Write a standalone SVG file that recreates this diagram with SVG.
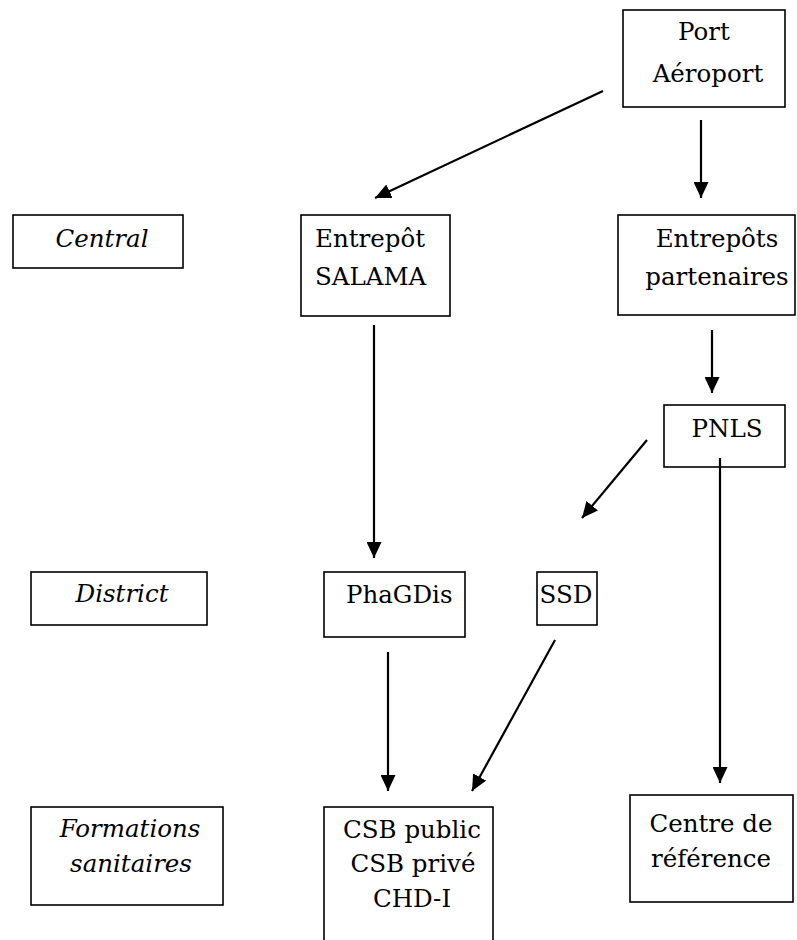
<svg xmlns="http://www.w3.org/2000/svg" width="797" height="940" viewBox="0 0 797 940">
<defs>
<style>
.box{fill:#fff;stroke:#000;stroke-width:1.6}
.t{font-family:"DejaVu Serif","Liberation Serif",serif;font-size:24.5px;fill:#000}
.c{text-anchor:middle}
.i{font-style:italic}
.conn line{stroke:#000;stroke-width:2.2}
</style>
<marker id="ah" markerUnits="userSpaceOnUse" markerWidth="17" markerHeight="15" refX="16" refY="7.5" orient="auto" viewBox="0 0 17 15">
<path d="M0,0 L16,7.5 L0,15 Z" fill="#000"/>
</marker>
</defs>
<rect width="797" height="940" fill="#fff"/>

<g id="port">
<rect class="box" x="623" y="10" width="162" height="97"/>
<text class="t c" x="704" y="40">Port</text>
<text class="t c" x="708" y="82">Aéroport</text>
</g>

<g id="central">
<rect class="box" x="13" y="215" width="170" height="53"/>
<text class="t c i" x="102" y="247">Central</text>
</g>

<g id="salama">
<rect class="box" x="301" y="215" width="149" height="101"/>
<text class="t" x="315" y="247">Entrepôt</text>
<text class="t" x="315" y="285">SALAMA</text>
</g>

<g id="partenaires">
<rect class="box" x="618" y="215" width="177" height="100"/>
<text class="t c" x="717" y="247">Entrepôts</text>
<text class="t c" x="717" y="285">partenaires</text>
</g>

<g id="pnls">
<rect class="box" x="664" y="405" width="121" height="62"/>
<text class="t c" x="727" y="437">PNLS</text>
</g>

<g id="district">
<rect class="box" x="31" y="572" width="176" height="53"/>
<text class="t c i" x="122" y="602">District</text>
</g>

<g id="phagdis">
<rect class="box" x="324" y="572" width="141" height="65"/>
<text class="t" x="346" y="603">PhaGDis</text>
</g>

<g id="ssd">
<rect class="box" x="537" y="572" width="60" height="53"/>
<text class="t c" x="566" y="603">SSD</text>
</g>

<g id="formations">
<rect class="box" x="31" y="807" width="192" height="98"/>
<text class="t c i" x="130" y="837">Formations</text>
<text class="t c i" x="131" y="872">sanitaires</text>
</g>

<g id="csb">
<rect class="box" x="324" y="807" width="169" height="140"/>
<text class="t c" x="412" y="838">CSB public</text>
<text class="t c" x="413" y="872">CSB privé</text>
<text class="t c" x="412" y="907">CHD-I</text>
</g>

<g id="centre">
<rect class="box" x="630" y="795" width="163" height="107"/>
<text class="t c" x="711" y="832">Centre de</text>
<text class="t c" x="711" y="867">référence</text>
</g>

<g class="conn" id="connectors">
<line x1="603" y1="91" x2="375" y2="198" marker-end="url(#ah)"/>
<line x1="701" y1="120" x2="701" y2="198" marker-end="url(#ah)"/>
<line x1="374" y1="325" x2="374" y2="558" marker-end="url(#ah)"/>
<line x1="712" y1="330" x2="712" y2="393" marker-end="url(#ah)"/>
<line x1="647" y1="440" x2="582" y2="518" marker-end="url(#ah)"/>
<line x1="720" y1="458" x2="720" y2="783" marker-end="url(#ah)"/>
<line x1="388" y1="652" x2="388" y2="791" marker-end="url(#ah)"/>
<line x1="555" y1="640" x2="472" y2="791" marker-end="url(#ah)"/>
</g>
</svg>
